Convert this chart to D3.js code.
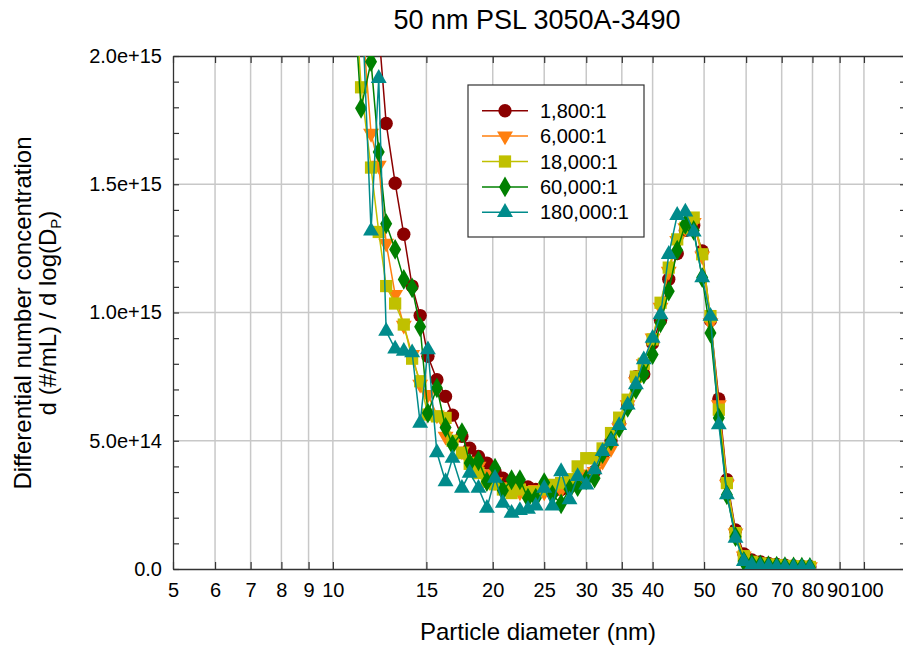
<!DOCTYPE html>
<html><head><meta charset="utf-8">
<script src="https://cdn.jsdelivr.net/npm/d3@7"></script>
<style>
body{margin:0;background:#fff;}
text{font-family:"Liberation Sans",Arial,sans-serif;}
</style></head>
<body>
<svg id="chart" width="903" height="648"></svg>
<script>
// Particle diameters (nm), SMPS channel midpoints
const diameters = [10.6,10.9,11.3,11.8,12.2,12.6,13.1,13.6,14.1,14.6,15.1,15.7,16.3,16.8,17.5,18.1,18.8,19.5,20.2,20.9,21.7,22.5,23.3,24.1,25.0,25.9,26.9,27.9,28.9,30.0,31.1,32.2,33.4,34.6,35.9,37.2,38.5,40.0,41.4,42.9,44.5,46.1,47.8,49.6,51.4,53.3,55.2,57.3,59.4,61.5,63.8,66.1,68.5,71.0,73.7,76.4,79.1];
// values in units of 1e15 (#/mL per dlogDp)
const s1800 = [3.4,3.0,2.7,2.4,2.1,1.737,1.504,1.305,1.103,0.988,0.829,0.738,0.673,0.600,0.517,0.471,0.439,0.413,0.380,0.354,0.34,0.33,0.32,0.31,0.31,0.30,0.31,0.32,0.34,0.36,0.38,0.44,0.50,0.57,0.64,0.75,0.76,0.88,0.97,1.13,1.23,1.32,1.34,1.24,0.97,0.663,0.348,0.152,0.059,0.035,0.028,0.022,0.018,0.015,0.012,0.010,0.009];
const s6000 = [3.2,2.7,2.2,1.698,1.574,1.27,1.07,0.95,0.836,0.72,0.68,0.60,0.517,0.49,0.46,0.42,0.40,0.37,0.34,0.32,0.31,0.30,0.30,0.31,0.30,0.30,0.31,0.32,0.34,0.37,0.38,0.42,0.47,0.55,0.64,0.73,0.80,0.90,1.02,1.16,1.28,1.33,1.35,1.22,0.96,0.64,0.33,0.14,0.05,0.03,0.025,0.02,0.016,0.013,0.011,0.009,0.008];
const s18000 = [3.0,2.4,1.878,1.565,1.314,1.103,1.035,0.953,0.82,0.732,0.602,0.595,0.589,0.50,0.452,0.41,0.374,0.34,0.33,0.31,0.296,0.31,0.30,0.30,0.31,0.328,0.335,0.35,0.40,0.432,0.432,0.47,0.53,0.59,0.66,0.75,0.80,0.895,1.038,1.175,1.285,1.33,1.37,1.227,0.986,0.621,0.335,0.14,0.05,0.028,0.022,0.018,0.015,0.012,0.010,0.009,0.008];
const s60000 = [3.0,2.3,1.796,1.978,1.626,1.346,1.246,1.129,1.096,0.944,0.608,0.706,0.552,0.484,0.532,0.413,0.422,0.341,0.393,0.306,0.348,0.348,0.276,0.276,0.337,0.289,0.254,0.311,0.321,0.348,0.354,0.45,0.50,0.55,0.63,0.70,0.76,0.836,0.96,1.083,1.243,1.344,1.32,1.136,0.92,0.589,0.289,0.126,0.03,0.02,0.016,0.013,0.011,0.009,0.008,0.007,0.006];
const s180000 = [3.0,2.6,2.3,1.318,1.913,0.927,0.858,0.849,0.843,0.569,0.855,0.454,0.341,0.432,0.315,0.374,0.315,0.237,0.354,0.257,0.218,0.228,0.233,0.246,0.315,0.246,0.380,0.270,0.361,0.328,0.387,0.458,0.497,0.56,0.64,0.719,0.816,0.90,0.992,1.227,1.379,1.392,1.314,1.136,0.986,0.5625,0.29,0.12,0.03,0.015,0.012,0.010,0.008,0.007,0.006,0.005,0.005];
const seriesNames = ["1,800:1","6,000:1","18,000:1","60,000:1","180,000:1"];
const seriesValues = [s1800,s6000,s18000,s60000,s180000];
const seriesColors = ["#8b0000","#ff7f0e","#c0c000","#008000","#008b8b"];
const seriesSymbols = ["circle","triangleDown","square","diamond","triangle"];
const xTickValues = [5,6,7,8,9,10,15,20,25,30,35,40,50,60,70,80,90,100];
const yTickValues = [0,0.5e15,1.0e15,1.5e15,2.0e15];
const yMinorTicks = d3.range(0, 2.0001e15, 1e14);
const titleText = "50 nm PSL 3050A-3490";
const xLabel = "Particle diameter (nm)";

const svg = d3.select("#chart");
const L = 173, R = 906, T = 56, B = 569;
const x = d3.scaleLog().domain([5,120]).range([L,R]);
const y = d3.scaleLinear().domain([0,2e15]).range([B,T]);

// gridlines
const grid = svg.append("g").attr("stroke","#c8c8c8").attr("stroke-width",1.5);
grid.selectAll(".vg").data(xTickValues.filter(d=>d>5)).join("line")
  .attr("x1",d=>x(d)).attr("x2",d=>x(d)).attr("y1",T).attr("y2",B);
grid.selectAll(".hg").data(yTickValues.filter(d=>d>0 && d<2e15)).join("line")
  .attr("x1",L).attr("x2",R).attr("y1",d=>y(d)).attr("y2",d=>y(d));

// axes
const fmtY = d => d===0 ? "0.0" : d3.format(".1e")(d);
const axB = svg.append("g").attr("transform",`translate(0,${B})`)
  .call(d3.axisBottom(x).tickValues(xTickValues).tickFormat(d3.format("d")).tickSizeInner(-7).tickSizeOuter(0).tickPadding(14));
const axT = svg.append("g").attr("transform",`translate(0,${T})`)
  .call(d3.axisTop(x).tickValues(xTickValues).tickFormat("").tickSizeInner(-7).tickSizeOuter(0));
const axL = svg.append("g").attr("transform",`translate(${L},0)`)
  .call(d3.axisLeft(y).tickValues(yMinorTicks).tickFormat(d=> yTickValues.some(v=>Math.abs(v-d)<1)? fmtY(d):"").tickSizeInner(-6).tickSizeOuter(0).tickPadding(11));
const axR = svg.append("g").attr("transform",`translate(${R},0)`)
  .call(d3.axisRight(y).tickValues(yMinorTicks).tickFormat("").tickSizeInner(-6).tickSizeOuter(0));
[axB,axT,axL,axR].forEach(a=>{
  a.select(".domain").attr("stroke","#333").attr("stroke-width",1.3);
  a.selectAll(".tick line").attr("stroke","#333").attr("stroke-width",1.2);
  a.selectAll("text").attr("font-size",20).attr("fill","#000").attr("font-family","Liberation Sans, Arial, sans-serif");
});
// the crowded 90 / 100 labels sit edge to edge as in the reference
axB.selectAll(".tick text").attr("dx", d => d===90 ? -2 : d===100 ? 2.5 : 0);

// clip
svg.append("clipPath").attr("id","clip").append("rect").attr("x",L).attr("y",T).attr("width",R-L).attr("height",B-T);

const symbolMap = {
  circle: d3.symbol().type(d3.symbolCircle).size(140),
  square: d3.symbol().type(d3.symbolSquare).size(150),
  diamond: d3.symbol().type(d3.symbolDiamond).size(125),
  triangle: d3.symbol().type(d3.symbolTriangle).size(110),
  triangleDown: d3.symbol().type(d3.symbolTriangle).size(110)
};
const plot = svg.append("g").attr("clip-path","url(#clip)");
const line = d3.line().x(d=>x(d[0])).y(d=>y(d[1]));
seriesValues.forEach((vals,i)=>{
  const pts = diameters.map((d,j)=>[d, vals[j]*1e15]);
  const g = plot.append("g");
  g.append("path").datum(pts).attr("d",line).attr("fill","none")
    .attr("stroke",seriesColors[i]).attr("stroke-width",1.5);
  g.selectAll("path.m").data(pts).join("path").attr("class","m")
    .attr("d",symbolMap[seriesSymbols[i]]())
    .attr("transform",d=>`translate(${x(d[0])},${y(d[1])})${seriesSymbols[i]==="triangleDown"?" rotate(180)":""}`)
    .attr("fill",seriesColors[i]);
});

// title and labels
svg.append("text").attr("x",537).attr("y",29).attr("text-anchor","middle").attr("font-size",27).text(titleText);
svg.append("text").attr("x",538).attr("y",640).attr("text-anchor","middle").attr("font-size",24).text(xLabel);
const yl = svg.append("text").attr("transform","translate(31,313) rotate(-90)").attr("text-anchor","middle").attr("font-size",24);
yl.append("tspan").attr("x",0).attr("dy",0).text("Differential number concentration");
const t2 = yl.append("tspan").attr("x",0).attr("dy",25);
t2.append("tspan").text("d (#/mL) / d log(D");
t2.append("tspan").attr("font-size",15).attr("dy",5).text("P");
t2.append("tspan").attr("dy",-5).text(")");

// legend
const lg = svg.append("g");
lg.append("rect").attr("x",468).attr("y",85).attr("width",176).attr("height",152).attr("fill","#fff").attr("stroke","#333").attr("stroke-width",1.2);
seriesNames.forEach((n,i)=>{
  const cy = 110.7 + i*25.4;
  lg.append("line").attr("x1",482).attr("x2",528).attr("y1",cy).attr("y2",cy).attr("stroke",seriesColors[i]).attr("stroke-width",1.5);
  lg.append("path").attr("d",symbolMap[seriesSymbols[i]]())
    .attr("transform",`translate(505,${cy})${seriesSymbols[i]==="triangleDown"?" rotate(180)":""}`).attr("fill",seriesColors[i]);
  lg.append("text").attr("x",540).attr("y",cy+7).attr("font-size",20).text(n);
});
</script>
</body></html>
